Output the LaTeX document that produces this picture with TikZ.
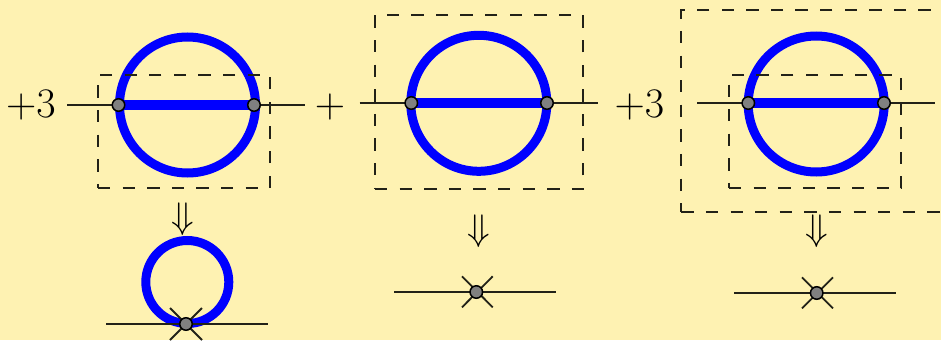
\documentclass[tikz,border=0pt]{standalone}
\definecolor{bgc}{HTML}{FEF2B2}
\definecolor{ink}{HTML}{222218}
\pgfdeclarelayer{back}
\pgfsetlayers{back,main}
\tikzset{
  loopring/.style={circle,draw=blue,line width=9pt,inner sep=0pt,minimum size=#1},
  bar/.style={draw=blue,line width=9.5pt},
  thinline/.style={draw=ink,line width=1.8pt},
  vertexdot/.style={circle,draw=black,fill=gray,line width=1.5pt,inner sep=0pt,minimum size=12.5pt},
  cutbox/.style={draw=ink,line width=1.8pt,dash pattern=on 12.3pt off 12.3pt},
  arrowtext/.style={inner sep=0pt,scale=1.487,font=\Huge},
  bigtext/.style={inner sep=0pt,scale=1.69,font=\Huge}
}
\begin{document}
\begin{tikzpicture}[x=1pt,y=-1pt]
\useasboundingbox (0,0) rectangle (941,340);
\begin{pgfonlayer}{back}
\fill[bgc] (0,0) rectangle (941,340);
\end{pgfonlayer}

% vertices and labels
\node[vertexdot] (va) at (118.5,105) {};
\node[vertexdot] (vb) at (254,105) {};
\node[vertexdot] (vc) at (186,324) {};
\node[vertexdot] (vd) at (411.3,103) {};
\node[vertexdot] (ve) at (547,103) {};
\node[vertexdot] (vf) at (476.3,292) {};
\node[vertexdot] (vg) at (748.3,103) {};
\node[vertexdot] (vh) at (884,103) {};
\node[vertexdot] (vi) at (816.7,293) {};
\node[bigtext] (ca) at (30.8,105) {$+3$};
\node[bigtext] (cb) at (330,106.5) {$+$};
\node[bigtext] (cc) at (639.5,105) {$+3$};
\node[arrowtext] (da) at (182.5,219) {$\Downarrow$};
\node[arrowtext] (db) at (479,231) {$\Downarrow$};
\node[arrowtext] (dc) at (816.3,231) {$\Downarrow$};

% dashed boxes
\draw[cutbox] (98,188) -- (270,188) -- (270,75) -- (98,75) -- cycle;
\draw[cutbox] (375,189) -- (582.7,189) -- (582.7,14.7) -- (375,14.7) -- cycle;
\draw[cutbox] (729,188.3) -- (901.3,188.3) -- (901.3,75) -- (729,75) -- cycle;
\draw[cutbox] (681.3,211.7) -- (951,211.7) -- (951,9.7) -- (681.3,9.7) -- cycle;

% free ends of the external lines
\coordinate (la) at (67,105); \coordinate (lb) at (305,105);
\coordinate (lc) at (359.7,103); \coordinate (ld) at (598,103);
\coordinate (le) at (697,103); \coordinate (lf) at (935,103);
\coordinate (xa) at (106,324); \coordinate (xb) at (268,324);
\coordinate (xc) at (170,308); \coordinate (xd) at (202,340);
\coordinate (xe) at (170,340); \coordinate (xf) at (202,308);
\coordinate (ya) at (394.3,292); \coordinate (yb) at (556,292);
\coordinate (yc) at (462,276.3); \coordinate (yd) at (492.7,307.3);
\coordinate (ye) at (462,307.3); \coordinate (yf) at (492.7,276.3);
\coordinate (za) at (734.3,293); \coordinate (zb) at (896.3,293);
\coordinate (zc) at (802,277.3); \coordinate (zd) at (833,308.3);
\coordinate (ze) at (802,308.3); \coordinate (zf) at (833,277.3);

\begin{pgfonlayer}{back}
\node[loopring=136pt] (ra) at (187.5,105) {};
\node[loopring=83pt] (rb) at (187.3,282) {};
\node[loopring=136pt] (rc) at (478.8,103.3) {};
\node[loopring=136pt] (rd) at (816.2,104) {};
\draw[bar] (va.center) -- (vb.center);
\draw[bar] (vd.center) -- (ve.center);
\draw[bar] (vg.center) -- (vh.center);
\draw[thinline] (la) -- (va.center); \draw[thinline] (vb.center) -- (lb);
\draw[thinline] (lc) -- (vd.center); \draw[thinline] (ve.center) -- (ld);
\draw[thinline] (le) -- (vg.center); \draw[thinline] (vh.center) -- (lf);
\draw[thinline] (xa) -- (xb);
\draw[thinline] (xc) -- (xd);
\draw[thinline] (xe) -- (xf);
\draw[thinline] (ya) -- (yb);
\draw[thinline] (yc) -- (yd);
\draw[thinline] (ye) -- (yf);
\draw[thinline] (za) -- (zb);
\draw[thinline] (zc) -- (zd);
\draw[thinline] (ze) -- (zf);
\end{pgfonlayer}
\end{tikzpicture}
\end{document}
